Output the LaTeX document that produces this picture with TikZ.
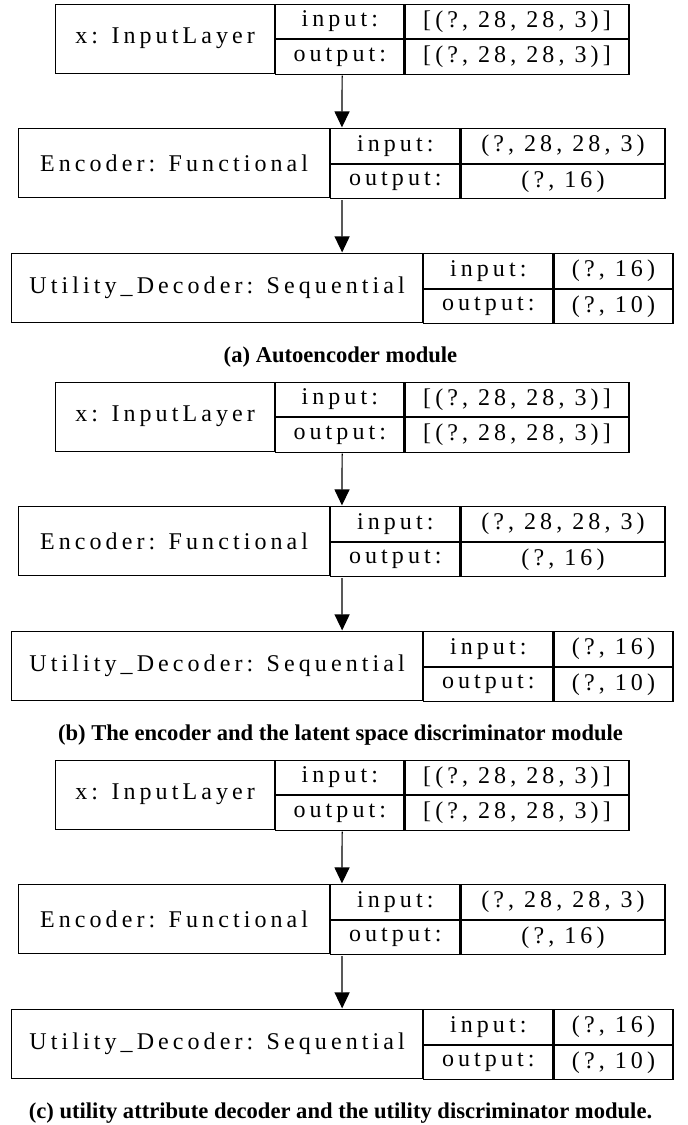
\documentclass[tikz,border=0pt]{standalone}
\usepackage{fontspec}
\setmainfont{Liberation Serif}
\newfontfamily\gvfont[LetterSpace=17]{Liberation Serif}
\usetikzlibrary{arrows.meta,fit}

\begin{document}
\begin{tikzpicture}
  [x=0.5pt,y=-0.5pt,line width=0.6pt,
   every node/.style={inner sep=0pt,font=\gvfont\fontsize{12}{14}\selectfont},
   cell/.style={draw,minimum height=34.5pt,anchor=north west},
   half/.style={draw,minimum height=17.25pt,anchor=north west},
   layer/.style={fit=#1,inner sep=0pt},
   caption/.style={font=\normalfont\bfseries\fontsize{11.3}{13}\selectfont},
   flow/.style={-{Triangle[length=8pt,width=7.5pt]}}]

  \useasboundingbox (0,0) rectangle (688,1125);

  \foreach \p/\dy/\cap in {a/0/{(a) Autoencoder module},
      b/378/{(b) The encoder and the latent space discriminator module},
      c/756/{(c) utility attribute decoder and the utility discriminator module.}} {
    % input layer
    \node[cell,minimum width=109.5pt] (x\p) at (55,3.5+\dy) {x: InputLayer};
    \node[half,minimum width=64pt] (xi\p) at (x\p.north east) {input:};
    \node[half,minimum width=64pt] (xo\p) at (xi\p.south west) {output:};
    \node[half,minimum width=112pt] (xiv\p) at (xi\p.north east) {[(?, 28, 28, 3)]};
    \node[half,minimum width=112pt] (xov\p) at (xo\p.north east) {[(?, 28, 28, 3)]};
    \node[layer={(x\p)(xov\p)}] (xbox\p) {};

    % encoder
    \node[cell,minimum width=155.5pt] (e\p) at (18,128+\dy) {Encoder: Functional};
    \node[half,minimum width=64.5pt] (ei\p) at (e\p.north east) {input:};
    \node[half,minimum width=64.5pt] (eo\p) at (ei\p.south west) {output:};
    \node[half,minimum width=102pt] (eiv\p) at (ei\p.north east) {(?, 28, 28, 3)};
    \node[half,minimum width=102pt] (eov\p) at (eo\p.north east) {(?, 16)};
    \node[layer={(e\p)(eov\p)}] (ebox\p) {};

    % utility decoder
    \node[cell,minimum width=205.5pt] (u\p) at (11,253+\dy) {Utility\_Decoder: Sequential};
    \node[half,minimum width=64.5pt] (ui\p) at (u\p.north east) {input:};
    \node[half,minimum width=64.5pt] (uo\p) at (ui\p.south west) {output:};
    \node[half,minimum width=59.5pt] (uiv\p) at (ui\p.north east) {(?, 16)};
    \node[half,minimum width=59.5pt] (uov\p) at (uo\p.north east) {(?, 10)};
    \node[layer={(u\p)(uov\p)}] (ubox\p) {};

    \draw[flow] (xbox\p) -- (ebox\p);
    \draw[flow] (ebox\p) -- (ubox\p);

    \node[caption] (cap\p) at (340.5,357+\dy) {\cap};
  }

\end{tikzpicture}
\end{document}
